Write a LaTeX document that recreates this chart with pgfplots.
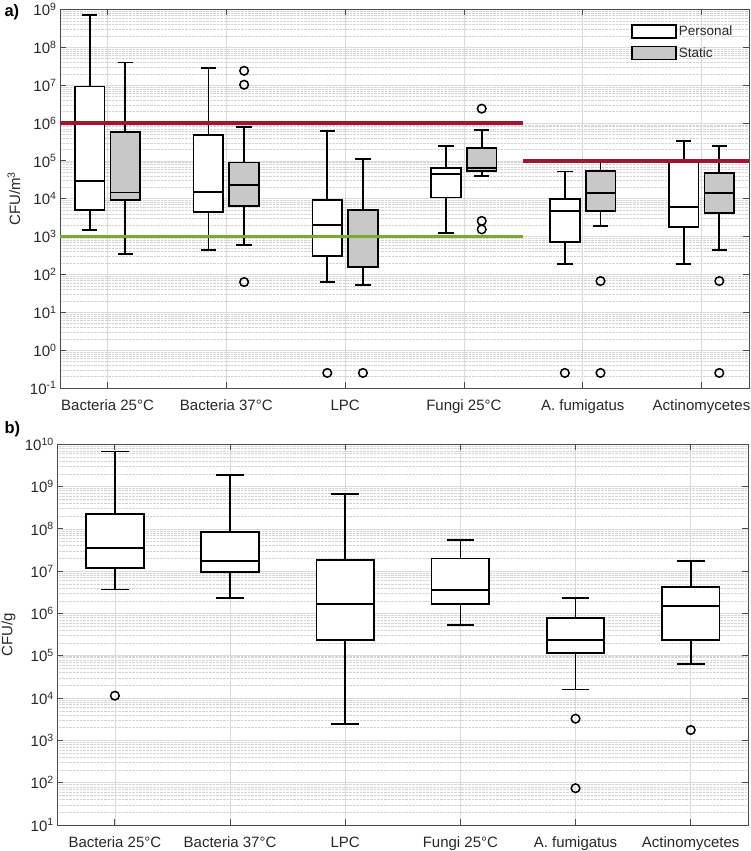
\documentclass[border=0pt]{standalone}
\usepackage{pgfplots}
\pgfplotsset{compat=1.18}
\usepgfplotslibrary{statistics}
\usepackage{fontspec}
\setmainfont{Liberation Sans}

\definecolor{mred}{rgb}{0.635,0.078,0.184}
\definecolor{mgreen}{rgb}{0.466,0.674,0.188}
\definecolor{boxgray}{RGB}{200,200,200}
\definecolor{axgray}{RGB}{40,40,40}

\pgfplotsset{
  panel/.style={
    scale only axis,
    tick align=inside,
    major tick length=6pt,
    minor tick length=0pt,
    axis line style={black!70, line width=0.8pt},
    every tick/.style={black!70, line width=0.8pt},
    xmajorgrids, ymajorgrids, yminorgrids,
    major grid style={black!14, line width=0.6pt},
    minor grid style={black!17, densely dotted, line width=0.5pt},
    xtick={1,2,3,4,5,6},
    xticklabels={Bacteria 25°C, Bacteria 37°C, LPC, Fungi 25°C, A. fumigatus, Actinomycetes},
    ticklabel style={font=\fontsize{15}{18}\selectfont, text=axgray},
    xticklabel style={inner sep=0pt, text height=10.8pt, text depth=3pt, anchor=north, yshift=-11.5pt},
    label style={font=\fontsize{15}{18}\selectfont, text=axgray},
    boxplot/draw direction=y,
  },
  bx/.style={draw=black, line width=1.7pt},
  outl/.style={only marks, mark=o, mark size=4.3pt, mark options={line width=1.5pt, draw=black}, draw=black},
  legbox/.style={legend image code/.code={\draw[##1] (0pt,-6.5pt) rectangle (44pt,6.5pt);}},
}

\begin{document}
\begin{tikzpicture}
\useasboundingbox (0,0) rectangle (750pt,851pt);

% ---------------- a) airborne concentrations ----------------
\begin{axis}[ymode=log, panel,
  at={(60pt,463pt)}, anchor=south west,
  width=689pt, height=378.5pt,
  xmin=0.6, xmax=6.4,
  ymin=1e-1, ymax=1e9,
  ytick={1e-1,1e0,1e1,1e2,1e3,1e4,1e5,1e6,1e7,1e8,1e9},
  yticklabels={10\textsuperscript{-1},10\textsuperscript{0},10\textsuperscript{1},10\textsuperscript{2},10\textsuperscript{3},10\textsuperscript{4},10\textsuperscript{5},10\textsuperscript{6},10\textsuperscript{7},10\textsuperscript{8},10\textsuperscript{9}},
  ylabel={CFU/m\textsuperscript{3}},
  ylabel style={at={(axis description cs:-0.067,0.5)}, anchor=center},
  legend style={at={(axis description cs:0.829,0.962)}, anchor=north west,
    draw=none, fill=none, inner sep=0pt, row sep=6pt,
    font=\fontsize{13.5}{15}\selectfont, text=axgray,
    /tikz/every even column/.append style={column sep=3pt}},
  legend cell align=left,
]
\addlegendimage{legbox, draw=black, fill=white, line width=1.6pt}
\addlegendentry{Personal}
\addlegendimage{legbox, draw=black, fill=boxgray, line width=1.6pt}
\addlegendentry{Static}

% Personal samplers
\addplot[bx, fill=white, forget plot, boxplot prepared={draw position=0.85, box extend=0.25, whisker extend=0.13,
  lower whisker=1.5e3, lower quartile=5.0e3, median=3.0e4, upper quartile=9.3e6, upper whisker=7.2e8}] coordinates {};
\addplot[bx, fill=white, forget plot, boxplot prepared={draw position=1.85, box extend=0.25, whisker extend=0.13,
  lower whisker=450, lower quartile=4.4e3, median=1.48e4, upper quartile=4.9e5, upper whisker=2.9e7}] coordinates {};
\addplot[bx, fill=white, forget plot, boxplot prepared={draw position=2.85, box extend=0.25, whisker extend=0.13,
  lower whisker=63, lower quartile=313, median=2.0e3, upper quartile=9.4e3, upper whisker=6.2e5}] coordinates {};
\addplot[bx, fill=white, forget plot, boxplot prepared={draw position=3.85, box extend=0.25, whisker extend=0.13,
  lower whisker=1.22e3, lower quartile=1.07e4, median=4.5e4, upper quartile=6.5e4, upper whisker=2.5e5}] coordinates {};
\addplot[bx, fill=white, forget plot, boxplot prepared={draw position=4.85, box extend=0.25, whisker extend=0.13,
  lower whisker=192, lower quartile=733, median=4.8e3, upper quartile=1.0e4, upper whisker=5.2e4}] coordinates {};
\addplot[bx, fill=white, forget plot, boxplot prepared={draw position=5.85, box extend=0.25, whisker extend=0.13,
  lower whisker=192, lower quartile=1.83e3, median=6.05e3, upper quartile=9.2e4, upper whisker=3.4e5}] coordinates {};

% Static samplers
\addplot[bx, fill=boxgray, forget plot, boxplot prepared={draw position=1.15, box extend=0.25, whisker extend=0.13,
  lower whisker=340, lower quartile=9.4e3, median=1.45e4, upper quartile=5.9e5, upper whisker=4.0e7}] coordinates {};
\addplot[bx, fill=boxgray, forget plot, boxplot prepared={draw position=2.15, box extend=0.25, whisker extend=0.13,
  lower whisker=611, lower quartile=6.3e3, median=2.27e4, upper quartile=9.0e4, upper whisker=7.9e5}] coordinates {};
\addplot[bx, fill=boxgray, forget plot, boxplot prepared={draw position=3.15, box extend=0.25, whisker extend=0.13,
  lower whisker=53.5, lower quartile=157, median=1.0e3, upper quartile=4.95e3, upper whisker=1.12e5}] coordinates {};
\addplot[bx, fill=boxgray, forget plot, boxplot prepared={draw position=4.15, box extend=0.25, whisker extend=0.13,
  lower whisker=4.0e4, lower quartile=5.5e4, median=6.6e4, upper quartile=2.23e5, upper whisker=6.55e5}] coordinates {};
\addplot[bx, fill=boxgray, forget plot, boxplot prepared={draw position=5.15, box extend=0.25, whisker extend=0.13,
  lower whisker=1.94e3, lower quartile=4.66e3, median=1.39e4, upper quartile=5.4e4, upper whisker=1.0e5}] coordinates {};
\addplot[bx, fill=boxgray, forget plot, boxplot prepared={draw position=6.15, box extend=0.25, whisker extend=0.13,
  lower whisker=434, lower quartile=4.2e3, median=1.42e4, upper quartile=4.7e4, upper whisker=2.5e5}] coordinates {};

% Outliers
\addplot[outl, forget plot] coordinates {
  (2.15,2.4e7) (2.15,1.03e7) (2.15,63)
  (2.85,0.25) (3.15,0.25)
  (4.15,2.4e6) (4.15,2.6e3) (4.15,1.55e3)
  (4.85,0.25) (5.15,67) (5.15,0.25)
  (6.15,67) (6.15,0.25)
};

% Limit values
\addplot[mred, line width=3.6pt, forget plot] coordinates {(0.6,1e6) (4.5,1e6)};
\addplot[mgreen, line width=3.6pt, forget plot] coordinates {(0.6,1e3) (4.5,1e3)};
\addplot[mred, line width=3.6pt, forget plot] coordinates {(4.5,1e5) (6.4,1e5)};
\end{axis}

% ---------------- b) settled dust ----------------
\begin{axis}[ymode=log, panel,
  at={(57.3pt,26pt)}, anchor=south west,
  width=691pt, height=380.7pt,
  xmin=0.5, xmax=6.5,
  ymin=1e1, ymax=1e10,
  ytick={1e1,1e2,1e3,1e4,1e5,1e6,1e7,1e8,1e9,1e10},
  yticklabels={10\textsuperscript{1},10\textsuperscript{2},10\textsuperscript{3},10\textsuperscript{4},10\textsuperscript{5},10\textsuperscript{6},10\textsuperscript{7},10\textsuperscript{8},10\textsuperscript{9},10\textsuperscript{10}},
  ylabel={CFU/g},
  ylabel style={at={(axis description cs:-0.0706,0.5)}, anchor=center},
]
\addplot[bx, fill=white, boxplot prepared={draw position=1, box extend=0.5, whisker extend=0.24,
  lower whisker=3.7e6, lower quartile=1.21e7, median=3.6e7, upper quartile=2.25e8, upper whisker=6.8e9}] coordinates {};
\addplot[bx, fill=white, boxplot prepared={draw position=2, box extend=0.5, whisker extend=0.24,
  lower whisker=2.36e6, lower quartile=9.4e6, median=1.77e7, upper quartile=8.45e7, upper whisker=1.9e9}] coordinates {};
\addplot[bx, fill=white, boxplot prepared={draw position=3, box extend=0.5, whisker extend=0.24,
  lower whisker=2.4e3, lower quartile=2.36e5, median=1.68e6, upper quartile=1.87e7, upper whisker=6.7e8}] coordinates {};
\addplot[bx, fill=white, boxplot prepared={draw position=4, box extend=0.5, whisker extend=0.24,
  lower whisker=5.4e5, lower quartile=1.65e6, median=3.65e6, upper quartile=1.98e7, upper whisker=5.4e7}] coordinates {};
\addplot[bx, fill=white, boxplot prepared={draw position=5, box extend=0.5, whisker extend=0.24,
  lower whisker=1.6e4, lower quartile=1.18e5, median=2.36e5, upper quartile=7.7e5, upper whisker=2.3e6}] coordinates {};
\addplot[bx, fill=white, boxplot prepared={draw position=6, box extend=0.5, whisker extend=0.24,
  lower whisker=6.5e4, lower quartile=2.36e5, median=1.5e6, upper quartile=4.2e6, upper whisker=1.77e7}] coordinates {};

\addplot[outl] coordinates {
  (1,1.14e4)
  (5,3.26e3) (5,74)
  (6,1.76e3)
};
\end{axis}

\node[anchor=base west, font=\fontsize{16.5}{19}\selectfont\bfseries] at (1pt,834pt) {a)};
\node[anchor=base west, font=\fontsize{16.5}{19}\selectfont\bfseries] at (1pt,417pt) {b)};
\end{tikzpicture}
\end{document}
